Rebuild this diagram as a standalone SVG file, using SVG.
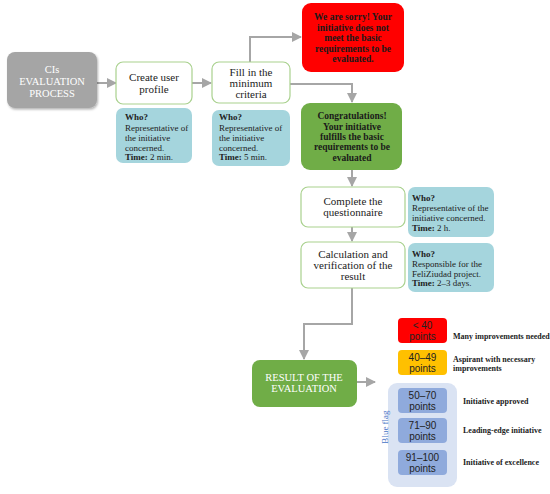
<svg xmlns="http://www.w3.org/2000/svg" width="550" height="494" viewBox="0 0 550 494">
<defs>
<marker id="ah" viewBox="0 0 10 10" refX="9" refY="5" markerWidth="5" markerHeight="5" orient="auto"><path d="M0,0 L10,5 L0,10 z" fill="#a6a6a6"/></marker>
<filter id="sh" x="-10%" y="-10%" width="130%" height="130%"><feDropShadow dx="1" dy="1.5" stdDeviation="1" flood-color="#000" flood-opacity="0.3"/></filter>
</defs>
<style>
.s{font-family:"Liberation Serif","Times New Roman",serif;}
.step{fill:#fff;stroke:#a9d18e;stroke-width:1.2;}
.who{fill:#a5d5dd;}
.st{font-size:11px;fill:#222;text-anchor:middle;}
.wt{font-size:9px;fill:#222;}
.b{font-weight:bold;}
.msg{font-size:9.5px;font-weight:bold;fill:#1a1a1a;text-anchor:middle;}
.pt{font-family:"Liberation Sans",Arial,sans-serif;font-size:10px;fill:#222;text-anchor:middle;}
.lb{font-size:8px;font-weight:bold;fill:#222;}
.con{fill:none;stroke:#a6a6a6;stroke-width:2;marker-end:url(#ah);}
</style>
<rect width="550" height="494" fill="#fff"/>
<g id="connectors">
<path class="con" d="M97,83 H116"/>
<path class="con" d="M192,83 H211"/>
<path class="con" d="M250,62 V37 H301"/>
<path class="con" d="M290,84 H352 V102"/>
<path class="con" d="M352,170 V186"/>
<path class="con" d="M352,227 V241"/>
<path class="con" d="M352,288 V324 H304 V359"/>
<path class="con" d="M357,382 H375"/>
</g>
<g id="start" class="s">
<rect x="7" y="52" width="90" height="56" rx="8" fill="#a5a5a5" filter="url(#sh)"/>
<text x="52" y="73" font-size="10.5" fill="#fff" text-anchor="middle">CIs</text>
<text x="52" y="85" font-size="10.5" fill="#fff" text-anchor="middle">EVALUATION</text>
<text x="52" y="97" font-size="10.5" fill="#fff" text-anchor="middle">PROCESS</text>
</g>
<g id="create" class="s">
<rect class="step" x="116" y="62" width="76" height="42" rx="7"/>
<text class="st" x="154" y="81">Create user</text>
<text class="st" x="154" y="93">profile</text>
</g>
<g id="who1" class="s">
<rect class="who" x="116" y="108" width="76" height="55" rx="7"/>
<text class="wt b" x="125" y="120">Who?</text>
<text class="wt" x="125" y="131">Representative of</text>
<text class="wt" x="125" y="141">the initiative</text>
<text class="wt" x="125" y="151">concerned.</text>
<text class="wt" x="125" y="160"><tspan class="b">Time:</tspan> 2 min.</text>
</g>
<g id="fill" class="s">
<rect class="step" x="212" y="62" width="78" height="41" rx="7"/>
<text class="st" x="251" y="76">Fill in the</text>
<text class="st" x="251" y="87">minimum</text>
<text class="st" x="251" y="98">criteria</text>
</g>
<g id="who2" class="s">
<rect class="who" x="212" y="110" width="78" height="56" rx="7"/>
<text class="wt b" x="219" y="120">Who?</text>
<text class="wt" x="219" y="131">Representative of</text>
<text class="wt" x="219" y="141">the initiative</text>
<text class="wt" x="219" y="151">concerned.</text>
<text class="wt" x="219" y="160"><tspan class="b">Time:</tspan> 5 min.</text>
</g>
<g id="sorry" class="s">
<rect x="302" y="3" width="102" height="69" rx="9" fill="#ff0000"/>
<text class="msg" x="353" y="20">We are sorry! Your</text>
<text class="msg" x="353" y="31">initiative does not</text>
<text class="msg" x="353" y="41">meet the basic</text>
<text class="msg" x="353" y="52">requirements to be</text>
<text class="msg" x="353" y="62">evaluated.</text>
</g>
<g id="congrats" class="s">
<rect x="301" y="103" width="101" height="67" rx="9" fill="#70ad47"/>
<text class="msg" x="352" y="119">Congratulations!</text>
<text class="msg" x="352" y="130">Your initiative</text>
<text class="msg" x="352" y="140">fulfills  the basic</text>
<text class="msg" x="352" y="150">requirements to be</text>
<text class="msg" x="352" y="161">evaluated</text>
</g>
<g id="complete" class="s">
<rect class="step" x="301" y="187" width="104" height="40" rx="7"/>
<text class="st" x="353" y="205">Complete the</text>
<text class="st" x="353" y="216">questionnaire</text>
</g>
<g id="who3" class="s">
<rect class="who" x="408" y="187" width="86" height="50" rx="7"/>
<text class="wt b" x="412" y="201">Who?</text>
<text class="wt" x="412" y="211">Representative of the</text>
<text class="wt" x="412" y="221">initiative concerned.</text>
<text class="wt" x="412" y="231"><tspan class="b">Time:</tspan> 2 h.</text>
</g>
<g id="calc" class="s">
<rect class="step" x="301" y="242" width="104" height="46" rx="7"/>
<text class="st" x="353" y="258">Calculation and</text>
<text class="st" x="353" y="269">verification of the</text>
<text class="st" x="353" y="280">result</text>
</g>
<g id="who4" class="s">
<rect class="who" x="408" y="243" width="86" height="49" rx="7"/>
<text class="wt b" x="412" y="257">Who?</text>
<text class="wt" x="412" y="267">Responsible for the</text>
<text class="wt" x="412" y="277">FeliZiudad project.</text>
<text class="wt" x="412" y="286"><tspan class="b">Time:</tspan> 2–3 days.</text>
</g>
<g id="result" class="s">
<rect x="252" y="360" width="105" height="47" rx="8" fill="#70ad47"/>
<text x="304" y="381" font-size="10.5" fill="#fff" text-anchor="middle">RESULT OF THE</text>
<text x="304" y="392" font-size="10.5" fill="#fff" text-anchor="middle">EVALUATION</text>
</g>
<g id="blueflag" class="s">
<rect x="388" y="383" width="69" height="104" rx="9" fill="#dae3f3"/>
<text x="385" y="427" font-size="9" fill="#4472c4" text-anchor="middle" transform="rotate(-90 385 427)" dy="3">Blue flag</text>
</g>
<g id="lt40">
<rect x="398" y="318" width="49" height="25" rx="4" fill="#ff0000"/>
<text class="pt" x="422.5" y="329">&lt; 40</text>
<text class="pt" x="422.5" y="340">points</text>
<text class="s lb" x="453" y="339">Many improvements needed</text>
</g>
<g id="r40">
<rect x="398" y="350" width="49" height="25" rx="4" fill="#ffc000"/>
<text class="pt" x="422.5" y="361">40–49</text>
<text class="pt" x="422.5" y="372">points</text>
<text class="s lb" x="453" y="362">Aspirant with necessary</text>
<text class="s lb" x="453" y="371">improvements</text>
</g>
<g id="r50">
<rect x="398" y="388" width="49" height="25" rx="4" fill="#8faadc"/>
<text class="pt" x="422.5" y="399">50–70</text>
<text class="pt" x="422.5" y="410">points</text>
<text class="s lb" x="463" y="404">Initiative approved</text>
</g>
<g id="r71">
<rect x="398" y="418" width="49" height="25" rx="4" fill="#8faadc"/>
<text class="pt" x="422.5" y="429">71–90</text>
<text class="pt" x="422.5" y="440">points</text>
<text class="s lb" x="463" y="433">Leading-edge initiative</text>
</g>
<g id="r91">
<rect x="398" y="450" width="49" height="25" rx="4" fill="#8faadc"/>
<text class="pt" x="422.5" y="461">91–100</text>
<text class="pt" x="422.5" y="472">points</text>
<text class="s lb" x="463" y="465">Initiative of excellence</text>
</g>
</svg>
